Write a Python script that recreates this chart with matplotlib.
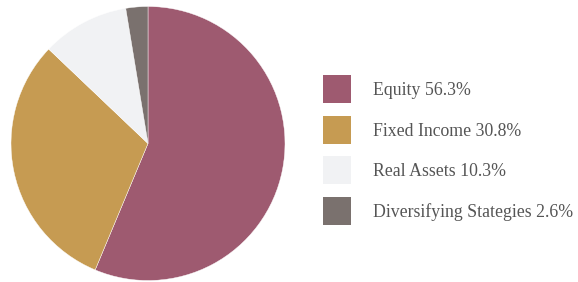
import matplotlib.pyplot as plt
from matplotlib.patches import Rectangle

# Données de l'allocation
categories = ["Equity", "Fixed Income", "Real Assets", "Diversifying Stategies"]
weights = [56.3, 30.8, 10.3, 2.6]
colors = ["#9e5a70", "#c69b52", "#f1f2f4", "#7a716e"]

W, H = 578, 282
fig = plt.figure(figsize=(W / 100, H / 100), dpi=100)

# Camembert
cx, cy, r = 148, 138.5, 137
ax = fig.add_axes([(cx - r) / W, (cy - r) / H, 2 * r / W, 2 * r / H])
ax.pie(weights, colors=colors, startangle=90, counterclock=False,
       wedgeprops=dict(linewidth=0.3, edgecolor="white"))
ax.set_xlim(-1, 1)
ax.set_ylim(-1, 1)
ax.set_aspect("auto")
ax.axis("off")

# Légende à droite
box = 28
x0 = 323
y_first = 89
step = 40.7
for i, (cat, w, c) in enumerate(zip(categories, weights, colors)):
    yc = y_first + i * step
    fig.patches.append(Rectangle((x0 / W, (H - yc - box / 2) / H), box / W, box / H,
                                 transform=fig.transFigure, facecolor=c, edgecolor="none"))
    fig.text((x0 + 50) / W, (H - yc - 6) / H, f"{cat} {w}%",
             fontsize=12.8, family="Liberation Serif", color="#555555",
             va="baseline", ha="left")

fig.savefig("out.png", dpi=100)
